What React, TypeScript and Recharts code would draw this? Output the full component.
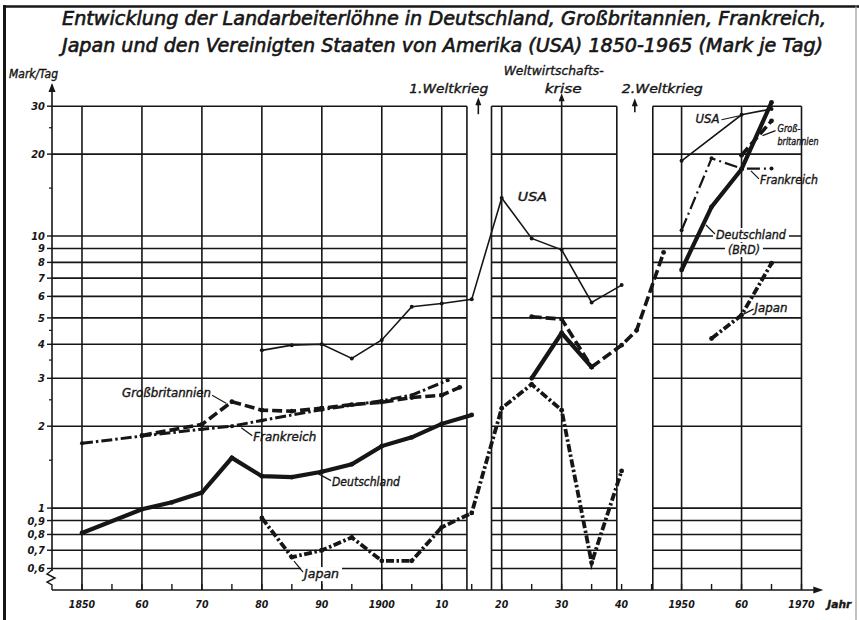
import React from 'react';
import { LineChart, Line, XAxis, YAxis, ReferenceLine, ReferenceDot } from 'recharts';

const INK = '#161616';
const FONT = "'DejaVu Sans Condensed', 'DejaVu Sans', sans-serif";

// Landarbeiterlöhne in Mark je Tag
const usaJahre = [1880, 1885, 1890, 1895, 1900, 1905, 1910, 1915, 1920, 1925, 1930, 1935, 1940];
const usaWerte = [3.8, 3.97, 4.0, 3.55, 4.15, 5.5, 5.65, 5.85, 13.8, 9.8, 8.9, 5.7, 6.6];
const usaNachJahre = [1950, 1960, 1965];
const usaNachWerte = [18.9, 27.9, 29.3];

const deJahre = [1850, 1860, 1865, 1870, 1875, 1880, 1885, 1890, 1895, 1900, 1905, 1910, 1915];
const deWerte = [0.81, 0.99, 1.05, 1.14, 1.53, 1.31, 1.3, 1.36, 1.45, 1.69, 1.82, 2.04, 2.2];
const deZwischenJahre = [1925, 1930, 1935];
const deZwischenWerte = [3.0, 4.4, 3.3];
const deKriegJahre = [1935, 1940, 1942.5, 1947];
const deKriegWerte = [3.3, 3.97, 4.5, 8.7];
const brdJahre = [1950, 1955, 1960, 1965];
const brdWerte = [7.5, 12.8, 17.6, 31];

const gbJahre = [1860, 1870, 1875, 1880, 1885, 1890, 1895, 1900, 1905, 1910, 1913];
const gbWerte = [1.85, 2.03, 2.46, 2.29, 2.27, 2.33, 2.4, 2.45, 2.55, 2.6, 2.78];
const gbZwischenJahre = [1925, 1930, 1935];
const gbZwischenWerte = [5.05, 4.95, 3.3];
const gbNachJahre = [1960, 1965];
const gbNachWerte = [19.8, 26.5];

const frJahre = [1850, 1860, 1870, 1875, 1880, 1890, 1900, 1905, 1911];
const frWerte = [1.73, 1.84, 1.95, 2.0, 2.1, 2.3, 2.48, 2.6, 2.95];
const frNachJahre = [1950, 1955, 1960, 1965];
const frNachWerte = [10.5, 19.3, 17.7, 17.7];

const jpJahre = [1880, 1885, 1890, 1895, 1900, 1905, 1910, 1915, 1920, 1925, 1930, 1935, 1940];
const jpWerte = [0.92, 0.66, 0.7, 0.78, 0.64, 0.64, 0.85, 0.96, 2.33, 2.85, 2.29, 0.63, 1.37];
const jpNachJahre = [1955, 1960, 1965];
const jpNachWerte = [4.2, 5.12, 7.94];

const yTicks = [0.6, 0.7, 0.8, 0.9, 1, 2, 3, 4, 5, 6, 7, 8, 9, 10, 20, 30];
const xTickJahre = [1850, 1860, 1870, 1880, 1890, 1900, 1910, 1920, 1930, 1940, 1950, 1960, 1970];
const xTickLabels = ['1850', '60', '70', '80', '90', '1900', '10', '20', '30', '40', '1950', '60', '1970'];

// Felder des Gitters (Lücken für die Weltkriege)
const felder = [[1845, 1914.2], [1918.3, 1939.2], [1945.2, 1970]];
const senkrechte = [1850, 1860, 1870, 1880, 1890, 1900, 1910, 1914.2, 1918.3, 1920, 1930, 1939.2, 1945.2, 1950, 1960, 1970];
const xTicksFein = xTickJahre.flatMap((j) => (j < 1970 ? [j, j + 5] : [j]));

const duenn = { strokeWidth: 1.6 };
const dick = { strokeWidth: 4.2 };
const gestrichelt = { strokeWidth: 3.6, strokeDasharray: '10 4' };
const strichPunkt = { strokeWidth: 3, strokeDasharray: '11 3 2.5 3' };
const strichPunktDuenn = { strokeWidth: 2.2, strokeDasharray: '13 4 2 4' };
const japanStil = { strokeWidth: 3.8, strokeDasharray: '8 2.5 2.5 2.5' };

const pts = (jahre: number[], werte: number[]) => jahre.map((year, i) => ({ year, v: werte[i] }));

const serien = [
  { id: 'usa', d: pts(usaJahre, usaWerte), stil: duenn },
  { id: 'usa2', d: pts(usaNachJahre, usaNachWerte), stil: duenn },
  { id: 'gb', d: pts(gbJahre, gbWerte), stil: gestrichelt },
  { id: 'gb2', d: pts(gbZwischenJahre, gbZwischenWerte), stil: gestrichelt },
  { id: 'gb3', d: pts(gbNachJahre, gbNachWerte), stil: gestrichelt },
  { id: 'fr', d: pts(frJahre, frWerte), stil: strichPunkt },
  { id: 'fr2', d: pts(frNachJahre, frNachWerte), stil: strichPunktDuenn },
  { id: 'de', d: pts(deJahre, deWerte), stil: dick },
  { id: 'de2', d: pts(deZwischenJahre, deZwischenWerte), stil: dick },
  { id: 'de3', d: pts(deKriegJahre, deKriegWerte), stil: gestrichelt },
  { id: 'brd', d: pts(brdJahre, brdWerte), stil: dick },
  { id: 'jp', d: pts(jpJahre, jpWerte), stil: japanStil },
  { id: 'jp2', d: pts(jpNachJahre, jpNachWerte), stil: japanStil },
];

// Beschriftungen: Ankerpunkt in Daten, Text versetzt in Pixeln
const beschriftungen: any[] = [
  { t: 'Großbritannien', x: 1874.2, y: 2.41, dx: -16, dy: -11, a: 'end', b: 89, f: [-1, -1, -15, -9] },
  { t: 'Frankreich', x: 1876.4, y: 1.99, dx: 13, dy: 10, a: 'start', b: 63, f: [1, 1, 12, 9] },
  { t: 'Deutschland', x: 1889.2, y: 1.35, dx: 15, dy: 9, a: 'start', b: 68, f: [1, 1, 14, 8] },
  { t: 'Japan', x: 1885.2, y: 0.644, dx: 11, dy: 14, a: 'start', b: 35, f: [1, 1, 10, 12], w: true },
  { t: 'USA', x: 1922.7, y: 13.9, dx: 0, dy: 0, a: 'start', b: 29 },
  { t: 'USA', x: 1960, y: 27.9, dx: -22, dy: 4, a: 'end', b: 24, f: [-2, 1, -20, 5] },
  { t: 'Groß-', x: 1963, y: 23, dx: 18, dy: -9, a: 'start', b: 23, f: [3, -2, 16, -7], gr: 10.5 },
  { t: 'britannien', x: 1963, y: 23, dx: 18, dy: 4, a: 'start', b: 41, gr: 10.5 },
  { t: 'Frankreich', x: 1961.4, y: 17.5, dx: 10, dy: 10, a: 'start', b: 58, f: [1, 1, 9, 9] },
  { t: 'Deutschland', x: 1953.9, y: 11.07, dx: 11, dy: 11, a: 'start', b: 70, f: [1, 1, 10, 10], w: true },
  { t: '(BRD)', x: 1953.9, y: 11.07, dx: 23, dy: 26, a: 'start', b: 32, w: true },
  { t: 'Japan', x: 1960, y: 5.12, dx: 13, dy: -7, a: 'start', b: 33, f: [2, -1, 12, -6] },
  { t: '1.Weltkrieg', x: 1916.1, y: 30, dx: 10, dy: -18, a: 'end', b: 79, gr: 13 },
  { t: 'krise', x: 1930, y: 30, dx: -17, dy: -18, a: 'start', b: 37, gr: 13 },
  { t: 'Weltwirtschafts-', x: 1930, y: 30, dx: -58, dy: -36, a: 'start', b: 100, gr: 13 },
  { t: '2.Weltkrieg', x: 1942.2, y: 30, dx: -13, dy: -18, a: 'start', b: 81, gr: 13 },
  { t: 'Mark/Tag', x: 1845, y: 30, dx: -43, dy: -32, a: 'start', b: 49, gr: 11.5 },
  { t: 'Jahr', x: 1973.3, y: 0.5, dx: 6, dy: 14, a: 'start', b: 24, gr: 11, bold: true },
];

const pfeile = [
  { x: 1916.1, von: 8, bis: -7 },
  { x: 1930, von: 0, bis: -11 },
  { x: 1942.2, von: 6, bis: -6 },
];
const yNebenTicks = [1.5, 2.5, 3.5, 4.5, 15, 25];

const fmtY = (v: number) => (v < 1 ? String(v).replace('.', ',') : String(v));

function JahrTick(props: any) {
  const { x, y, payload } = props;
  const i = xTickJahre.indexOf(payload.value);
  return (
    <g>
      <line x1={x} x2={x} y1={y - 6} y2={y} stroke={INK} strokeWidth={1.4} />
      {i >= 0 && (
        <text x={x} y={y + 18} textAnchor="middle" fontFamily={FONT} fontStyle="italic" fontWeight="bold" fontSize={10.5} fill={INK}>
          {xTickLabels[i]}
        </text>
      )}
    </g>
  );
}

function WertTick(props: any) {
  const { x, y, payload } = props;
  return (
    <text x={x} y={y + 4} textAnchor="end" fontFamily={FONT} fontStyle="italic" fontWeight="bold" fontSize={11} fill={INK}>
      {fmtY(payload.value)}
    </text>
  );
}

const marke = (key: string, x: number, y: number, zeichnen: (cx: number, cy: number) => any) => (
  <ReferenceDot key={key} x={x} y={y} r={0} ifOverflow="visible" zIndex={700}
    shape={(p: any) => zeichnen(p.cx, p.cy)} />
);

export default function App() {
  const gr = (n: any) => n.gr || 12;
  return (
    <div style={{ position: 'absolute', left: 0, top: 0, width: 859, height: 620, background: '#fff' }}>
      <LineChart width={859} height={620} margin={{ top: 91.4, right: 57.5, bottom: 0, left: 0 }}>
        <XAxis type="number" dataKey="year" domain={[1845, 1970]} allowDataOverflow ticks={xTicksFein} interval={0}
          height={30} tickSize={0} tickMargin={0} axisLine={false} tickLine={false} tick={(p: any) => <JahrTick {...p} />} />
        <YAxis type="number" scale="log" domain={[0.5, 34]} allowDataOverflow ticks={yTicks} interval={0}
          width={52} tickSize={5} tickMargin={2} axisLine={false} tickLine={{ stroke: INK, strokeWidth: 1.4 }}
          tick={(p: any) => <WertTick {...p} />} />

        {felder.flatMap(([von, bis], f) => yTicks.map((v) => (
          <ReferenceLine key={`h${f}-${v}`} segment={[{ x: von, y: v }, { x: bis, y: v }]} stroke={INK} strokeWidth={1.6} zIndex={-50} />
        )))}
        {senkrechte.map((j) => (
          <ReferenceLine key={`v${j}`} segment={[{ x: j, y: 0.5 }, { x: j, y: 30 }]} stroke={INK} strokeWidth={1.6} zIndex={-50} />
        ))}

        {/* Achsen */}
        <ReferenceLine segment={[{ x: 1845, y: 0.587 }, { x: 1845, y: 36 }]} stroke={INK} strokeWidth={1.6} ifOverflow="visible" />
        <ReferenceLine segment={[{ x: 1845, y: 0.5 }, { x: 1972.8, y: 0.5 }]} stroke={INK} strokeWidth={1.6} ifOverflow="visible" />

        {serien.map((s) => (
          <Line key={s.id} data={s.d} dataKey="v" type="linear" stroke={INK} {...s.stil}
            dot={{ r: s.stil.strokeWidth > 3 ? 2.4 : 2, fill: INK, stroke: 'none', strokeDasharray: '' }}
            activeDot={false} isAnimationActive={false} legendType="none" zIndex={400} />
        ))}

        {marke('ypfeil', 1845, 36.5, (cx, cy) => <path d={`M${cx} ${cy} L${cx - 3.5} ${cy + 9} L${cx + 3.5} ${cy + 9} Z`} fill={INK} />)}
        {marke('xpfeil', 1973.3, 0.5, (cx, cy) => <path d={`M${cx + 2} ${cy} L${cx - 8} ${cy - 3.5} L${cx - 8} ${cy + 3.5} Z`} fill={INK} />)}
        {marke('bruch', 1845, 0.5, (cx, cy) => (
          <g>
            <rect x={cx - 2} y={cy - 19} width={4} height={18} fill="#fff" />
            <path d={`M${cx} ${cy - 20} L${cx - 5} ${cy - 16} L${cx + 3} ${cy - 12} L${cx - 5} ${cy - 8} L${cx} ${cy - 5} L${cx} ${cy}`}
              fill="none" stroke={INK} strokeWidth={1.4} />
          </g>
        ))}
        {yNebenTicks.map((v) => marke(`n${v}`, 1845, v, (cx, cy) => <line x1={cx - 3} x2={cx} y1={cy} y2={cy} stroke={INK} strokeWidth={1.2} />))}
        {pfeile.map((p) => marke(`p${p.x}`, p.x, 30, (cx, cy) => (
          <g>
            <line x1={cx} x2={cx} y1={cy + p.von} y2={cy + p.bis + 5} stroke={INK} strokeWidth={1.6} />
            <path d={`M${cx} ${cy + p.bis - 2} L${cx - 3} ${cy + p.bis + 6} L${cx + 3} ${cy + p.bis + 6} Z`} fill={INK} />
          </g>
        )))}

        {beschriftungen.map((n, i) => marke(`t${i}`, n.x, n.y, (cx, cy) => {
          const tx = cx + n.dx;
          const ty = cy + n.dy;
          const links = n.a === 'end' ? tx - n.b : tx;
          return (
            <g>
              {n.w && <rect x={links - 3} y={ty - 7} width={n.b + 6} height={14} fill="#fff" />}
              {n.f && <line x1={cx + n.f[0]} y1={cy + n.f[1]} x2={cx + n.f[2]} y2={cy + n.f[3]} stroke={INK} strokeWidth={1.2} />}
              <text x={tx} y={ty + gr(n) * 0.36} textAnchor={n.a} fontFamily={FONT} fontStyle="italic"
                fontWeight={n.bold ? 'bold' : 'normal'} fontSize={gr(n)} fill={INK} stroke={INK} strokeWidth={0.35}
                textLength={n.b} lengthAdjust="spacingAndGlyphs">{n.t}</text>
            </g>
          );
        }))}
      </LineChart>

      <svg width={859} height={620} style={{ position: 'absolute', left: 0, top: 0, pointerEvents: 'none' }}>
        <line x1={4.5} x2={4.5} y1={5} y2={620} stroke={INK} strokeWidth={3} />
        <line x1={3} x2={859} y1={6.5} y2={6.5} stroke={INK} strokeWidth={2.5} />
        <line x1={856} x2={856} y1={6} y2={620} stroke="#999" strokeWidth={1.2} />
        <text x={62} y={25} fontFamily={FONT} fontStyle="italic" fontSize={20} fill={INK} stroke={INK} strokeWidth={0.6}
          textLength={764} lengthAdjust="spacingAndGlyphs">
          Entwicklung der Landarbeiterlöhne in Deutschland, Großbritannien, Frankreich,
        </text>
        <text x={62} y={52} fontFamily={FONT} fontStyle="italic" fontSize={20} fill={INK} stroke={INK} strokeWidth={0.6}
          textLength={761} lengthAdjust="spacingAndGlyphs">
          Japan und den Vereinigten Staaten von Amerika (USA) 1850-1965 (Mark je Tag)
        </text>
      </svg>
    </div>
  );
}
